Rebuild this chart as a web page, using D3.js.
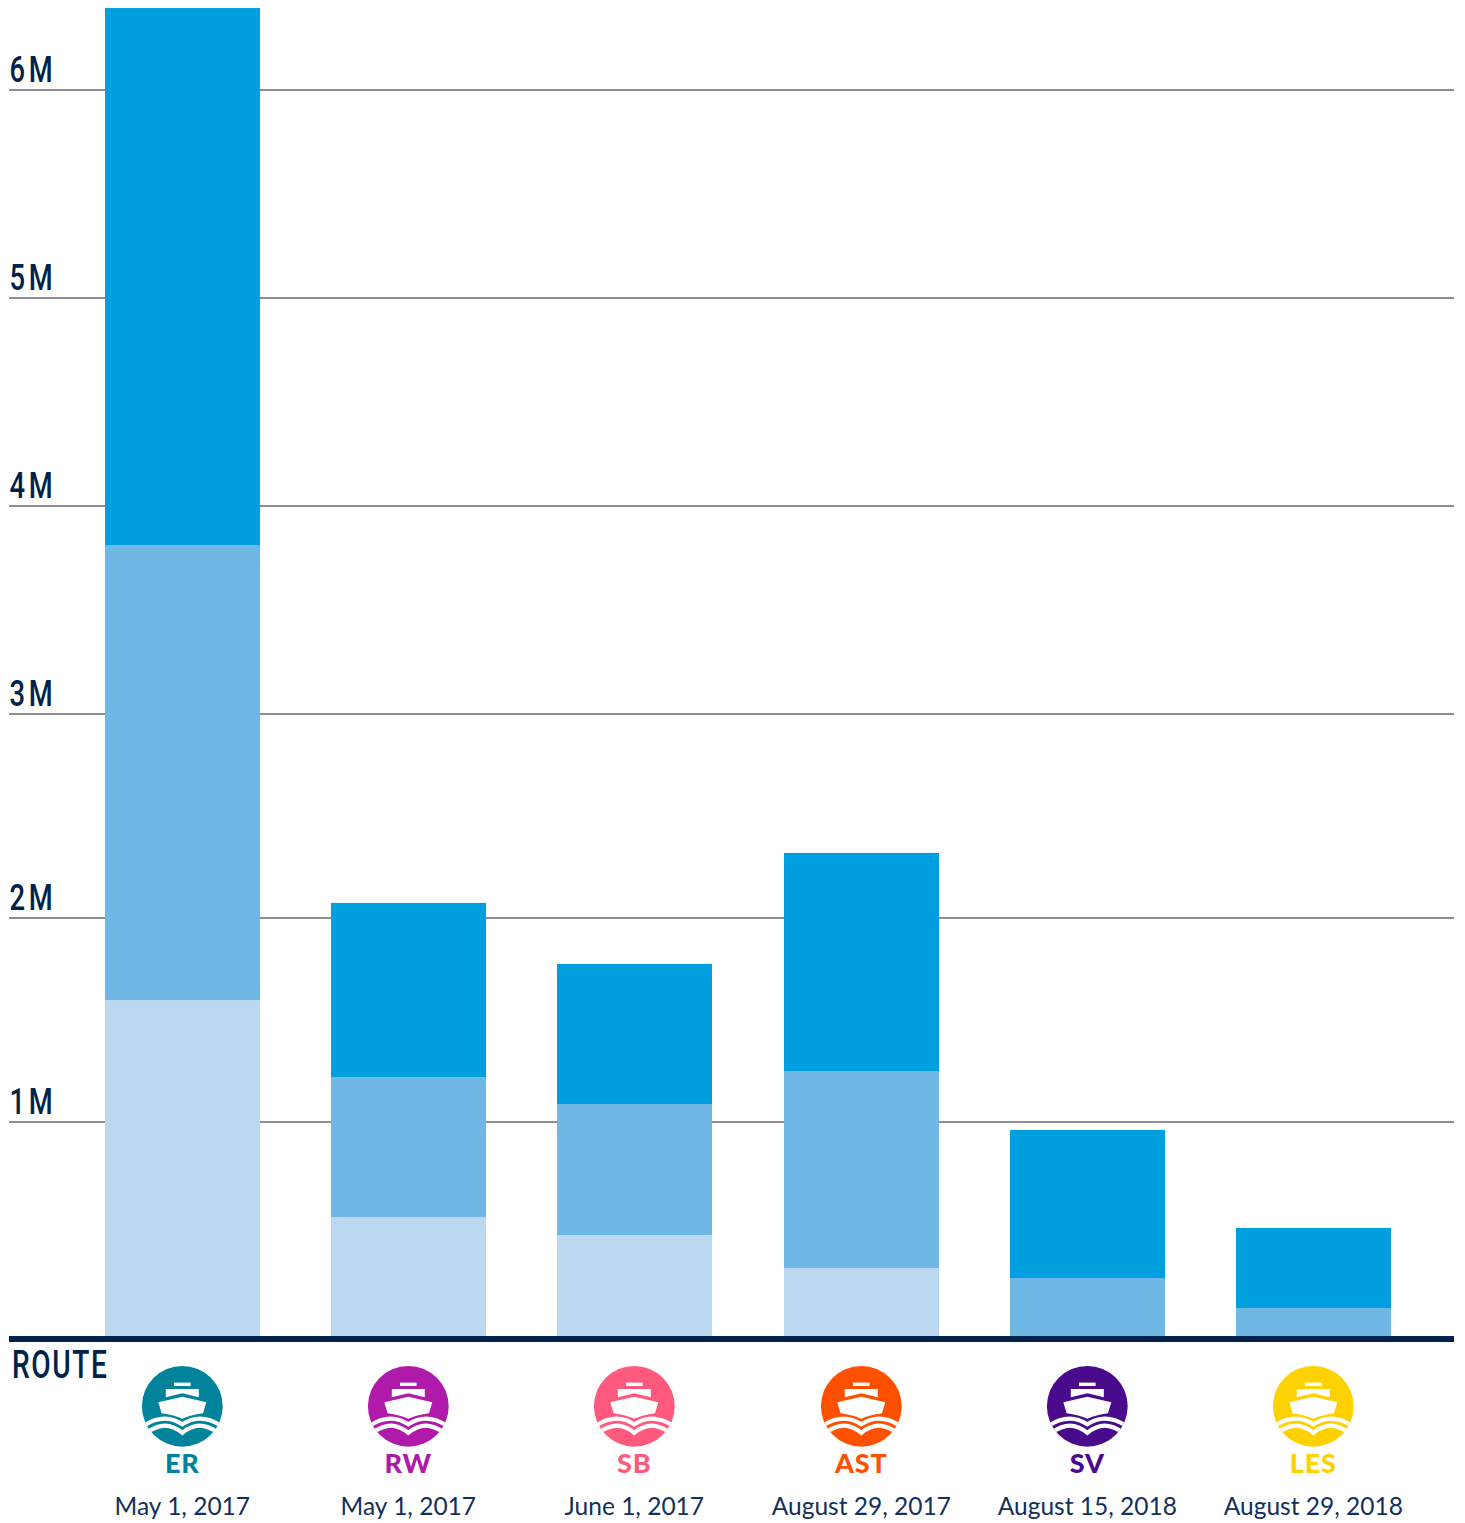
<!DOCTYPE html>
<html><head><meta charset="utf-8">
<script src="https://cdn.jsdelivr.net/npm/d3@7/dist/d3.min.js"></script>
<style>html,body{margin:0;padding:0;background:#fff}svg{display:block}</style></head>
<body><svg id="c" width="1465" height="1523"></svg>
<script>
const routes = ["ER","RW","SB","AST","SV","LES"];
const dates = ["May 1, 2017","May 1, 2017","June 1, 2017","August 29, 2017","August 15, 2018","August 29, 2018"];
const routeColors = ["#00839b","#b01aab","#ff5a7e","#ff5000","#4a0a8c","#ffd100"];
const segLight = [1.598,0.556,0.472,0.318,0,0];
const segMid = [2.2145,0.664,0.616,0.932,0.271,0.131];
const segDark = [2.5815,0.854,0.687,1.069,0.692,0.374];
const segColors = ["#bad8f0","#6fb7e5","#009fe0"];
const tickValues = [1,2,3,4,5,6];
const tickLabels = ["1M","2M","3M","4M","5M","6M"];

const svg = d3.select("#c");
const x = d3.scaleBand().domain(routes).range([105,1391]).paddingInner(0.315).paddingOuter(0);
const y = d3.scaleLinear().domain([0,1,2,3,4,5,6]).range([1336,1122,918,714,506,298,90]);
const navy = "#012249";
const condensed = "Roboto,sans-serif";

// gridlines and labels
const yAxis = d3.axisLeft(y).tickValues(tickValues).offset(0).tickSize(-1445).tickPadding(0).tickFormat((d,i)=>tickLabels[i]);
const ga = svg.append("g").attr("transform","translate(1454,0)").call(yAxis);
ga.select(".domain").remove();
ga.selectAll("line").attr("stroke","#8e8e96").attr("stroke-width",2).attr("x2",-1445).attr("x1",0);
ga.selectAll("text").attr("x",null).attr("dy",null).attr("y",null)
  .attr("transform","translate(-1444.5,-8) scale(0.74,1)")
  .attr("text-anchor","start").attr("font-family",condensed).attr("font-weight",500)
  .attr("font-size",37).attr("letter-spacing",5).attr("fill",navy);

// stacked bars
const rows = routes.map((r,i)=>({route:r,light:segLight[i],mid:segMid[i],dark:segDark[i]}));
const stack = d3.stack().keys(["light","mid","dark"])(rows);
svg.append("g").selectAll("g").data(stack).join("g").attr("fill",(d,i)=>segColors[i])
  .selectAll("rect").data(d=>d).join("rect")
  .attr("x",d=>Math.round(x(d.data.route))).attr("width",Math.round(x.bandwidth()))
  .attr("y",d=>y(d[1])).attr("height",d=>y(d[0])-y(d[1]));

// baseline
svg.append("rect").attr("x",9).attr("width",1445).attr("y",y(0)).attr("height",6).attr("fill",navy);

svg.append("text").text("ROUTE").attr("transform","translate(12,1377.5) scale(0.74,1)")
  .attr("font-family",condensed).attr("font-weight",500).attr("font-size",38).attr("letter-spacing",2.2).attr("fill",navy);

// route icons and labels
const hull = "M-24,-4 L0,-9.5 L24,-4 L20.7,7 Q8,8.5 0,12.5 Q-8,8.5 -20.7,7 Z";
const cabin = "M-16.5,-17.3 H16.5 V-9 L0,-13 L-16.5,-9 Z";
const funnel = "M-8.3,-23.7 H8.3 V-20.3 H-8.3 Z";
const waveA = "M-38,19 C-24,10 -12,10 0,18 C12,10 24,10 38,19";
const waveB = "M-36,26.5 C-22,17 -12,17 0,26.5 C12,17 22,17 36,26.5";
const icons = svg.append("g").selectAll("g").data(routes).join("g")
  .attr("transform",d=>`translate(${Math.round(x(d))+77.3},1406.3)`);
const defs = svg.append("defs");
defs.append("clipPath").attr("id","disc").append("circle").attr("r",40.4);
icons.append("circle").attr("r",40.4).attr("fill",(d,i)=>routeColors[i]);
[funnel,cabin,hull].forEach(p=>icons.append("path").attr("d",p).attr("fill","#fff"));
[waveA,waveB].forEach(p=>icons.append("path").attr("d",p).attr("fill","none").attr("stroke","#fff").attr("stroke-width",4.2).attr("clip-path","url(#disc)"));
icons.append("text").text(d=>d).attr("y",66.7).attr("x",0).attr("text-anchor","middle")
  .attr("font-family","Lato,sans-serif").attr("font-weight",900).attr("font-size",27).attr("letter-spacing",0.9).attr("fill",(d,i)=>routeColors[i]);
icons.append("text").text((d,i)=>dates[i]).attr("y",108.7).attr("text-anchor","middle")
  .attr("font-family","Lato,sans-serif").attr("font-size",24.5).attr("fill","#12305a");
</script></body></html>
